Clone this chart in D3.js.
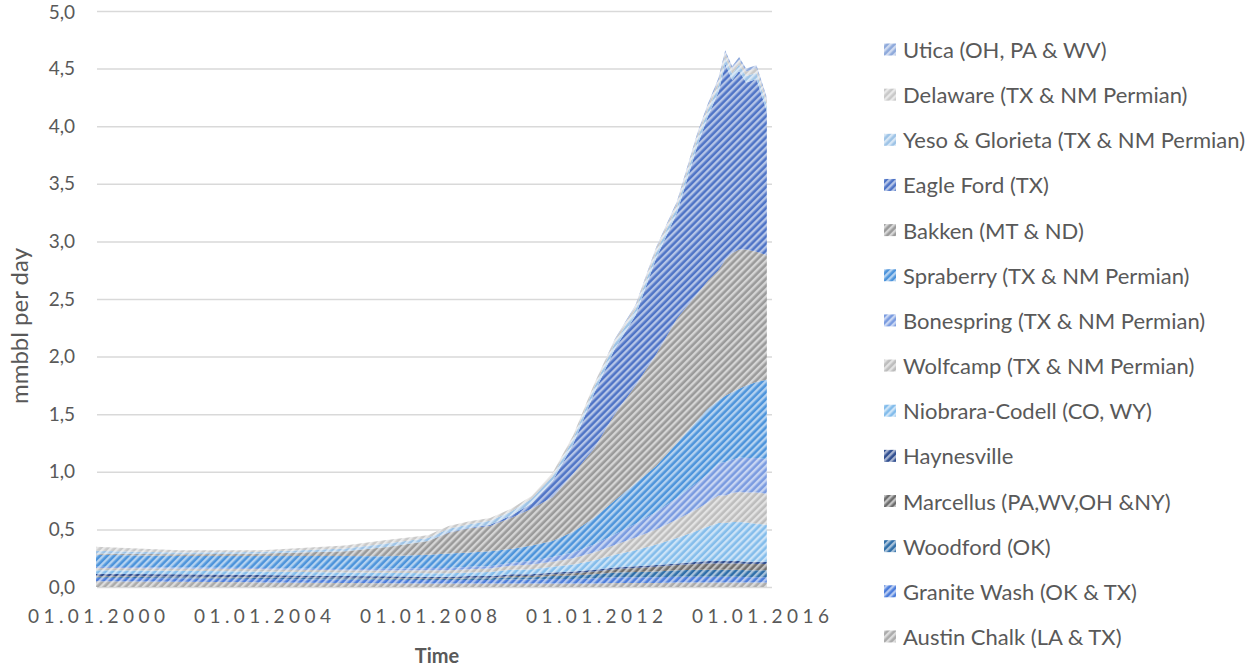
<!DOCTYPE html>
<html><head><meta charset="utf-8">
<script src="https://cdn.jsdelivr.net/npm/d3@7"></script>
<style>
body{margin:0;background:#fff;}
svg{display:block;}
text{font-family:Lato,"Open Sans",sans-serif;fill:#595959;}
</style>
</head><body>
<svg id="chart" width="1246" height="666"></svg>
<script>
// ---------- DATA ----------
const dates = ["2000-01","2002-01","2004-01","2006-01","2007-01","2008-01","2008-07","2009-01","2009-07","2010-01","2010-07","2011-01","2011-07","2012-01","2012-07","2013-01","2013-07","2014-01","2014-07","2014-10","2015-01","2015-03","2015-05","2015-07","2015-09","2015-12","2016-03"];

const austinChalk   = [.05,.045,.04,.035,.033,.03,.03,.03,.03,.03,.03,.03,.03,.03,.035,.035,.035,.04,.04,.04,.04,.04,.04,.04,.04,.04,.04];
const graniteWash   = [.03,.03,.03,.03,.03,.03,.03,.03,.03,.035,.035,.04,.04,.045,.05,.05,.05,.05,.05,.05,.05,.05,.05,.05,.045,.045,.045];
const woodford      = [.01,.01,.01,.01,.01,.01,.01,.015,.015,.02,.02,.025,.03,.035,.04,.045,.05,.055,.06,.06,.06,.06,.06,.06,.06,.06,.06];
const marcellus     = [.005,.005,.005,.005,.005,.005,.005,.005,.005,.01,.01,.015,.02,.025,.03,.035,.04,.045,.05,.055,.055,.055,.055,.055,.055,.055,.055];
const haynesville   = [.02,.02,.02,.015,.015,.015,.015,.015,.015,.015,.015,.015,.015,.015,.015,.015,.015,.015,.02,.02,.02,.02,.02,.02,.02,.02,.02];
const niobrara      = [.03,.03,.03,.03,.03,.03,.03,.03,.035,.04,.045,.05,.06,.08,.11,.14,.18,.22,.27,.30,.33,.33,.34,.34,.34,.33,.32];
const wolfcamp      = [.02,.02,.02,.02,.02,.025,.025,.03,.03,.035,.04,.045,.055,.07,.085,.11,.13,.16,.19,.21,.24,.24,.25,.26,.26,.27,.27];
const bonespring    = [.01,.01,.01,.01,.015,.02,.02,.02,.02,.025,.03,.04,.05,.07,.09,.12,.15,.19,.23,.25,.28,.29,.29,.30,.30,.30,.30];
const spraberry     = [.105,.10,.105,.115,.11,.115,.125,.125,.13,.12,.135,.14,.18,.23,.295,.35,.40,.475,.54,.565,.545,.575,.585,.595,.63,.66,.69];
const bakken        = [.01,.015,.02,.04,.08,.12,.18,.21,.22,.27,.32,.38,.50,.60,.75,.85,.97,1.08,1.10,1.11,1.13,1.18,1.21,1.21,1.18,1.13,1.08];
const eagleFord     = [0,0,0,0,0,0,.005,.005,.01,.02,.045,.14,.26,.48,.565,.61,.835,.92,1.29,1.43,1.55,1.70,1.50,1.55,1.45,1.50,1.25];
const yesoGlorieta  = [.025,.015,.015,.025,.03,.025,.03,.03,.035,.035,.04,.04,.045,.05,.05,.05,.05,.05,.055,.055,.055,.055,.055,.055,.055,.055,.055];
const delaware      = [.035,.02,.015,.025,.03,.025,.025,.025,.025,.025,.025,.03,.03,.03,.03,.03,.035,.035,.035,.035,.04,.04,.04,.04,.04,.04,.04];
const utica         = [0,0,0,0,0,0,0,0,0,0,0,0,0,0,.005,.01,.01,.015,.02,.02,.025,.025,.025,.025,.025,.025,.025];

// stack order: bottom -> top
const seriesNames = ["Austin Chalk (LA & TX)","Granite Wash (OK & TX)","Woodford (OK)","Marcellus (PA,WV,OH &NY)","Haynesville","Niobrara-Codell (CO, WY)","Wolfcamp (TX & NM Permian)","Bonespring (TX & NM Permian)","Spraberry (TX & NM Permian)","Bakken (MT & ND)","Eagle Ford (TX)","Yeso & Glorieta (TX & NM Permian)","Delaware (TX & NM Permian)","Utica (OH, PA & WV)"];
const seriesValues = [austinChalk,graniteWash,woodford,marcellus,haynesville,niobrara,wolfcamp,bonespring,spraberry,bakken,eagleFord,yesoGlorieta,delaware,utica];
const seriesColors = ["#ababab","#4c7ddb","#2f6ea8","#6e6e6e","#2f4d8f","#84bdeb","#bdbdbd","#7a9be0","#4d94db","#9a9a9a","#4f74c6","#9dc3e6","#c9c9c9","#8ea9db"];

const yTicks = [0,0.5,1,1.5,2,2.5,3,3.5,4,4.5,5];
const xTickDates = ["2000-01-01","2004-01-01","2008-01-01","2012-01-01","2016-01-01"];

// ---------- CHART ----------
const svg = d3.select("#chart");
const parseMonth = d3.timeParse("%Y-%m");
const parseDay = d3.timeParse("%Y-%m-%d");

const table = dates.map((d,i)=>{
  const row = {date: parseMonth(d)};
  seriesNames.forEach((n,j)=> row[n] = seriesValues[j][i]);
  return row;
});

const plotL = 97, plotR = 772;
const x = d3.scaleTime().domain([parseDay("2000-01-01"), parseDay("2016-01-01")]).range([96, 760]);
const y = d3.scaleLinear().domain([0,5]).range([587, 11]);

// patterns
const defs = svg.append("defs");
seriesNames.forEach((n,i)=>{
  const p = defs.append("pattern").attr("id","hatch"+i)
    .attr("patternUnits","userSpaceOnUse").attr("width",5).attr("height",5)
    .attr("patternTransform","rotate(45)");
  p.append("rect").attr("width",5).attr("height",5).attr("fill",seriesColors[i]);
  p.append("rect").attr("width",2.4).attr("height",5).attr("fill","#fff").attr("opacity",0.58);
});

// grid + y labels
const yAxis = d3.axisLeft(y).tickValues(yTicks).tickSize(-(plotR-plotL)).tickPadding(22)
  .tickFormat(d => d3.format(".1f")(d).replace(".", ","));
const gy = svg.append("g").attr("transform",`translate(${plotL},0)`).call(yAxis);
gy.select(".domain").remove();
gy.selectAll(".tick line").attr("stroke","#d9d9d9").attr("stroke-width",1.5);
gy.selectAll(".tick text").attr("font-size",19).attr("fill","#595959").style("font-family","Lato")
  .attr("dy", d => d === 5 ? "0.42em" : "0.32em");

// areas
const stack = d3.stack().keys(seriesNames);
const layers = stack(table);
const area = d3.area().x(d=>x(d.data.date)).y0(d=>y(d[0])).y1(d=>y(d[1]));
svg.append("g").selectAll("path").data(layers).join("path")
  .attr("d", area)
  .attr("fill",(d,i)=>`url(#hatch${i})`);

// x axis labels
const xAxis = d3.axisBottom(x).tickValues(xTickDates.map(parseDay)).tickSize(0).tickPadding(23)
  .tickFormat(d3.timeFormat("%d.%m.%Y"));
const gx = svg.append("g").attr("transform",`translate(0,587)`).call(xAxis);
gx.select(".domain").remove();
gx.selectAll(".tick text").attr("font-size",19).attr("fill","#595959").style("font-family","Lato")
  .attr("textLength",137).attr("lengthAdjust","spacing");

// axis titles
svg.append("text").attr("transform","translate(18,326) rotate(-90)")
  .attr("text-anchor","middle").attr("dominant-baseline","central")
  .attr("font-size",24).text("mmbbl per day");
svg.append("text").attr("x",437).attr("y",655)
  .attr("text-anchor","middle").attr("dominant-baseline","central")
  .attr("font-size",20).attr("font-weight","bold").text("Time");

// legend (top series first)
const legendOrder = seriesNames.map((n,i)=>i).reverse();
const lg = svg.append("g");
legendOrder.forEach((idx,r)=>{
  const cy = 49.5 + r*45.15;
  lg.append("rect").attr("x",884).attr("y",cy-6).attr("width",12).attr("height",12)
    .attr("fill",`url(#hatch${idx})`);
  lg.append("text").attr("x",903).attr("y",cy).attr("dominant-baseline","central")
    .attr("font-size",22).text(seriesNames[idx]);
});
</script>
</body></html>
